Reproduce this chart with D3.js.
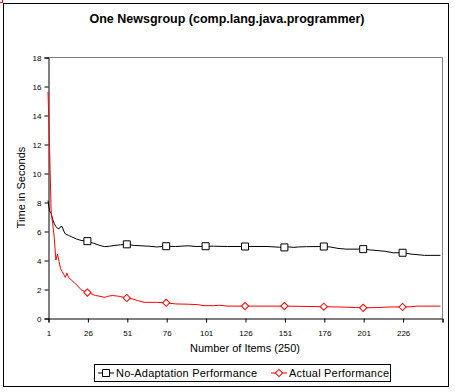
<!DOCTYPE html>
<html>
<head>
<meta charset="utf-8">
<script src="https://cdn.jsdelivr.net/npm/d3@7"></script>
<style>
  body { margin: 0; background: #fff; }
  svg { font-family: Arial, "Liberation Sans", sans-serif; }
</style>
</head>
<body>
<svg id="chart" width="455" height="392"></svg>
<script>
// values: item number -> seconds
var noAdaptItems = [1, 2, 3, 4, 5, 6, 7, 8, 9, 10, 11, 12, 14, 16, 19, 22, 26, 30, 34, 37, 40, 43, 47, 51, 56, 60, 65, 70, 76, 82, 90, 95, 101, 106, 115, 126, 140, 145, 148, 151, 154, 157, 160, 165, 176, 180, 185, 190, 201, 205, 215, 220, 226, 232, 240, 250];
var noAdaptValues = [8.1, 7.4, 7.2, 6.8, 6.5, 6.3, 6.2, 6.15, 6.3, 6.3, 6.0, 5.8, 5.7, 5.6, 5.45, 5.35, 5.3, 5.15, 5.0, 4.92, 4.95, 5.0, 5.05, 5.08, 5.0, 4.98, 4.95, 4.9, 4.95, 4.93, 4.98, 4.93, 4.95, 4.95, 4.93, 4.93, 4.93, 4.9, 4.88, 4.87, 4.9, 4.87, 4.9, 4.92, 4.93, 4.9, 4.8, 4.75, 4.75, 4.7, 4.6, 4.5, 4.5, 4.4, 4.32, 4.32];

var actualItems = [1, 2, 3, 4, 5, 6, 7, 8, 9, 10, 11, 12, 13, 14, 16, 18, 20, 22, 24, 26, 28, 31, 34, 37, 39, 42, 46, 51, 55, 58, 62, 70, 76, 82, 90, 96, 100, 106, 110, 115, 126, 151, 176, 190, 196, 201, 210, 218, 226, 232, 235, 250];
var actualValues = [15.6, 11.7, 7.3, 6.5, 5.5, 4.0, 4.4, 3.9, 3.4, 3.2, 3.0, 2.8, 3.1, 2.8, 2.6, 2.4, 2.2, 1.95, 1.85, 1.75, 1.7, 1.55, 1.5, 1.42, 1.5, 1.55, 1.5, 1.38, 1.3, 1.2, 1.08, 1.08, 1.05, 0.97, 0.95, 0.92, 0.85, 0.85, 0.88, 0.82, 0.82, 0.82, 0.78, 0.75, 0.72, 0.7, 0.72, 0.76, 0.76, 0.78, 0.82, 0.82];

var markerItems = [26, 51, 76, 101, 126, 151, 176, 201, 226];
var xTicks = [1, 26, 51, 76, 101, 126, 151, 176, 201, 226, 251];
var xTickLabels = ["1", "26", "51", "76", "101", "126", "151", "176", "201", "226", ""];
var yTicks = [0, 2, 4, 6, 8, 10, 12, 14, 16, 18];

var title = "One Newsgroup (comp.lang.java.programmer)";
var xTitle = "Number of Items (250)";
var yTitle = "Time in Seconds";
var seriesNames = ["No-Adaptation Performance", "Actual Performance"];
var seriesColors = ["#000000", "#ff0000"];

var svg = d3.select("#chart");

// outer frame
svg.append("rect")
  .attr("x", 3.5).attr("y", 3.5)
  .attr("width", 445).attr("height", 383)
  .attr("fill", "none").attr("stroke", "#000");

var plotLeft = 48, plotRight = 442, plotTop = 57, plotBottom = 318;

var x = d3.scaleLinear().domain([1, 251]).range([plotLeft, plotRight]);
var y = d3.scaleLinear().domain([0, 18]).range([plotBottom, plotTop]);

// plot frame (grey top/right)
svg.append("path")
  .attr("d", "M" + plotLeft + "," + (plotTop + 0.5) + "H" + (plotRight + 0.5) + "V" + plotBottom)
  .attr("fill", "none").attr("stroke", "#808080");

var yAxis = d3.axisLeft(y).tickValues(yTicks).tickSize(4).tickPadding(3);
var gy = svg.append("g").attr("transform", "translate(" + (plotLeft + 0.5) + ",0.5)").call(yAxis);
gy.selectAll("text").style("font-size", "8px").attr("fill", "#000");

var xAxis = d3.axisBottom(x).tickValues(xTicks)
  .tickFormat(function (d, i) { return xTickLabels[i]; })
  .tickSize(4).tickPadding(8);
var gx = svg.append("g").attr("transform", "translate(0.5," + (plotBottom + 0.5) + ")").call(xAxis);
gx.selectAll("text").style("font-size", "8px").attr("fill", "#000");

[gx, gy].forEach(function (g) {
  g.select(".domain").attr("stroke", "#000");
  g.selectAll(".tick line").attr("stroke", "#000");
});

function plotSeries(items, values, colour) {
  var pts = items.map(function (d, i) { return [d, values[i]]; });
  var line = d3.line()
    .x(function (d) { return x(d[0]); })
    .y(function (d) { return y(d[1]); });
  svg.append("path")
    .datum(pts)
    .attr("fill", "none")
    .attr("stroke", colour)
    .attr("stroke-width", 1)
    .attr("d", line);
}

function valueAt(items, values, item) {
  return values[items.indexOf(item)];
}

plotSeries(noAdaptItems, noAdaptValues, seriesColors[0]);
plotSeries(actualItems, actualValues, seriesColors[1]);

var square = d3.symbol().type(d3.symbolSquare).size(49);
var diamond = d3.symbol().type(d3.symbolSquare).size(26);

markerItems.forEach(function (m) {
  svg.append("path")
    .attr("d", square)
    .attr("transform", "translate(" + x(m) + "," + y(valueAt(noAdaptItems, noAdaptValues, m)) + ")")
    .attr("fill", "#fff").attr("stroke", seriesColors[0]);
  svg.append("path")
    .attr("d", diamond)
    .attr("transform", "translate(" + x(m) + "," + y(valueAt(actualItems, actualValues, m)) + ") rotate(45)")
    .attr("fill", "#fff").attr("stroke", seriesColors[1]);
});

// titles
svg.append("text")
  .attr("x", 227).attr("y", 23)
  .attr("text-anchor", "middle")
  .style("font-size", "12.5px").style("font-weight", "bold")
  .text(title);

svg.append("text")
  .attr("x", 245).attr("y", 352)
  .attr("text-anchor", "middle")
  .style("font-size", "11px")
  .text(xTitle);

svg.append("text")
  .attr("transform", "translate(25," + ((plotTop + plotBottom) / 2) + ") rotate(-90)")
  .attr("text-anchor", "middle")
  .style("font-size", "11px")
  .text(yTitle);

// legend
var legend = svg.append("g");
legend.append("rect")
  .attr("x", 94.5).attr("y", 364.5)
  .attr("width", 296).attr("height", 17)
  .attr("fill", "#fff").attr("stroke", "#000");

var legendX = [98, 271];
var legendSymbols = [square, diamond];
var legendRot = ["", " rotate(45)"];
seriesNames.forEach(function (name, i) {
  var g = legend.append("g").attr("transform", "translate(" + legendX[i] + ",373)");
  g.append("line").attr("x1", 0).attr("x2", 16).attr("y1", 0).attr("y2", 0)
    .attr("stroke", seriesColors[i]).attr("stroke-width", 1);
  g.append("path").attr("d", legendSymbols[i]).attr("transform", "translate(8,0)" + legendRot[i])
    .attr("fill", "#fff").attr("stroke", seriesColors[i]);
  g.append("text").attr("x", 18).attr("y", 4)
    .style("font-size", "11px").style("letter-spacing", "0.2px")
    .text(name);
});
</script>
</body>
</html>
